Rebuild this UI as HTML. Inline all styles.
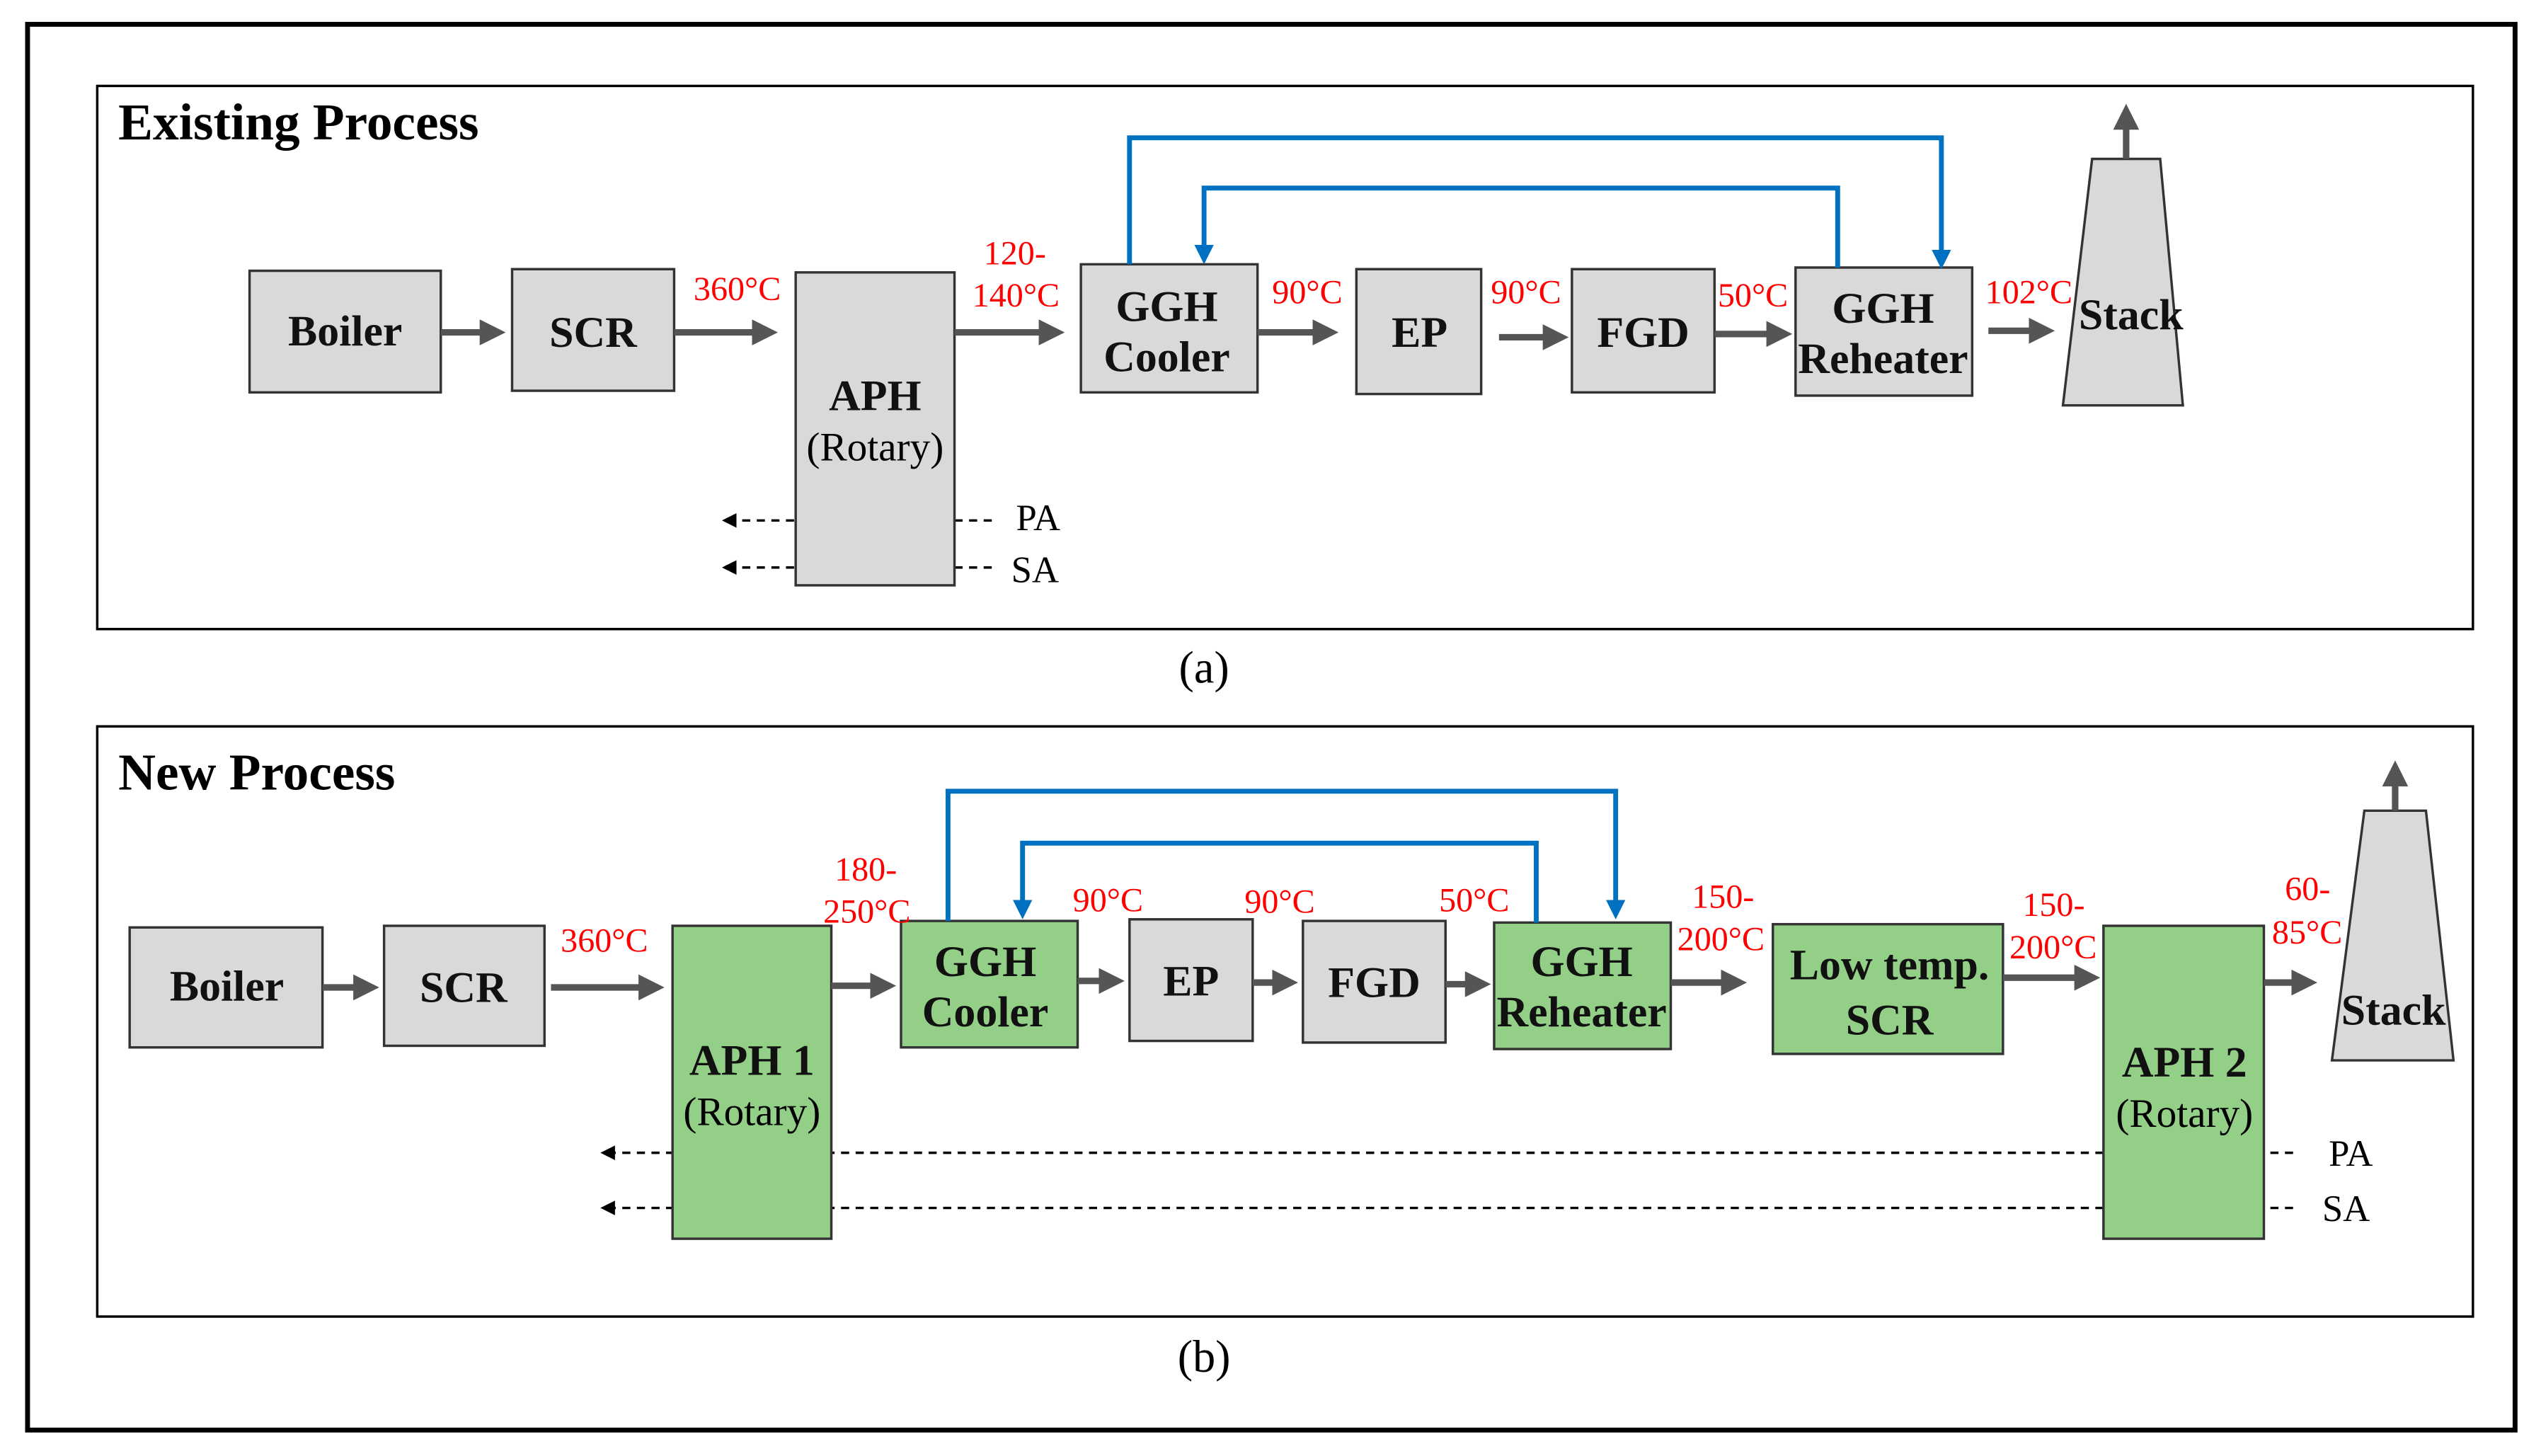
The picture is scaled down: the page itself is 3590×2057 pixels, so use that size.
<!DOCTYPE html>
<html><head><meta charset="utf-8"><style>html,body{margin:0;padding:0;background:#fff}svg{display:block}</style></head>
<body>
<svg width="3590" height="2057" viewBox="0 0 1568 898" preserveAspectRatio="none" xmlns="http://www.w3.org/2000/svg" font-family="'Liberation Serif', serif">
<defs>
<marker id="ga" markerWidth="4" markerHeight="4" refX="3" refY="2" orient="auto"><path d="M0,0 L4,2 L0,4 z" fill="#555"/></marker>
<marker id="ba" markerWidth="4" markerHeight="4" refX="3" refY="2" orient="auto"><path d="M0,0 L4,2 L0,4 z" fill="#0070c0"/></marker>
<marker id="ka" markerWidth="6" markerHeight="6" refX="5" refY="3" orient="auto"><path d="M0,0 L6,3 L0,6 z" fill="#000"/></marker>
</defs>
<rect x="17" y="15" width="1535" height="867" fill="#fff" stroke="#000" stroke-width="3"/>
<rect x="60" y="53" width="1466" height="335" fill="none" stroke="#000" stroke-width="1.5"/>
<rect x="60" y="448" width="1466" height="364" fill="none" stroke="#000" stroke-width="1.5"/>
<g font-weight="bold" font-size="32"><text x="73" y="86">Existing Process</text><text x="73" y="487">New Process</text></g>
<g font-size="28" text-anchor="middle"><text x="743" y="421">(a)</text><text x="743" y="846">(b)</text></g>

<g stroke="#000" stroke-width="1.5" stroke-dasharray="5,4" fill="none">
<line x1="490" y1="321" x2="447" y2="321" marker-end="url(#ka)"/>
<line x1="490" y1="350" x2="447" y2="350" marker-end="url(#ka)"/>
<line x1="589" y1="321" x2="615" y2="321"/>
<line x1="589" y1="350" x2="615" y2="350"/>
</g>
<g font-size="23"><text x="627" y="327">PA</text><text x="624" y="359">SA</text></g>

<g fill="#d9d9d9" stroke="#333" stroke-width="1.5">
<rect x="154" y="167" width="118" height="75"/>
<rect x="316" y="166" width="100" height="75"/>
<rect x="491" y="168" width="98" height="193"/>
<rect x="667" y="163" width="109" height="79"/>
<rect x="837" y="166" width="77" height="77"/>
<rect x="970" y="166" width="88" height="76"/>
<rect x="1108" y="165" width="109" height="79"/>
<polygon points="1291,98 1333,98 1347,250 1273,250"/>
</g>
<g font-weight="bold" font-size="27" text-anchor="middle" fill="#111">
<text x="213" y="213">Boiler</text>
<text x="366" y="214">SCR</text>
<text x="540" y="253">APH</text>
<text x="720" y="198">GGH</text><text x="720" y="229">Cooler</text>
<text x="876" y="214">EP</text>
<text x="1014" y="214">FGD</text>
<text x="1162" y="199">GGH</text><text x="1162" y="230">Reheater</text>
<text x="1315" y="203">Stack</text>
</g>
<text x="540" y="284" font-size="25" text-anchor="middle">(Rotary)</text>
<g stroke="#555" stroke-width="4" fill="none" marker-end="url(#ga)">
<line x1="272" y1="205" x2="308" y2="205"/>
<line x1="416" y1="205" x2="476" y2="205"/>
<line x1="589" y1="205" x2="653" y2="205"/>
<line x1="776" y1="205" x2="822" y2="205"/>
<line x1="925" y1="208" x2="964" y2="208"/>
<line x1="1058" y1="206" x2="1102" y2="206"/>
<line x1="1227" y1="204" x2="1264" y2="204"/>
<line x1="1312" y1="98" x2="1312" y2="68"/>
</g>
<g fill="none" stroke="#0070c0" stroke-width="3">
<polyline points="697,163 697,85 1198,85 1198,163" marker-end="url(#ba)"/>
<polyline points="1134,165 1134,116 743,116 743,160" marker-end="url(#ba)"/>
</g>
<g fill="#ff0000" font-size="21">
<text x="428" y="185">360°C</text>
<text x="607" y="163">120-</text><text x="600" y="189">140°C</text>
<text x="785" y="187">90°C</text>
<text x="920" y="187">90°C</text>
<text x="1060" y="189">50°C</text>
<text x="1225" y="187">102°C</text>
</g>

<g stroke="#000" stroke-width="1.5" stroke-dasharray="5,4" fill="none">
<line x1="1415" y1="711" x2="372" y2="711" marker-end="url(#ka)"/>
<line x1="1415" y1="745" x2="372" y2="745" marker-end="url(#ka)"/>
</g>
<g font-size="23"><text x="1437" y="719">PA</text><text x="1433" y="753">SA</text></g>
<g stroke="#333" stroke-width="1.5">
<rect x="80" y="572" width="119" height="74" fill="#d9d9d9"/>
<rect x="237" y="571" width="99" height="74" fill="#d9d9d9"/>
<rect x="415" y="571" width="98" height="193" fill="#93cf87"/>
<rect x="556" y="568" width="109" height="78" fill="#93cf87"/>
<rect x="697" y="567" width="76" height="75" fill="#d9d9d9"/>
<rect x="804" y="568" width="88" height="75" fill="#d9d9d9"/>
<rect x="922" y="569" width="109" height="78" fill="#93cf87"/>
<rect x="1094" y="570" width="142" height="80" fill="#93cf87"/>
<rect x="1298" y="571" width="99" height="193" fill="#93cf87"/>
<polygon points="1459,500 1497,500 1514,654 1439,654" fill="#d9d9d9"/>
</g>
<g font-weight="bold" font-size="27" text-anchor="middle" fill="#111">
<text x="140" y="617">Boiler</text>
<text x="286" y="618">SCR</text>
<text x="464" y="663">APH 1</text>
<text x="608" y="602">GGH</text><text x="608" y="633">Cooler</text>
<text x="735" y="614">EP</text>
<text x="848" y="615">FGD</text>
<text x="976" y="602">GGH</text><text x="976" y="633">Reheater</text>
<text x="1166" y="604">Low temp.</text><text x="1166" y="638">SCR</text>
<text x="1348" y="664">APH 2</text>
<text x="1477" y="632">Stack</text>
</g>
<g font-size="25" text-anchor="middle"><text x="464" y="694">(Rotary)</text><text x="1348" y="695">(Rotary)</text></g>
<g stroke="#555" stroke-width="4" fill="none" marker-end="url(#ga)">
<line x1="199" y1="609" x2="230" y2="609"/>
<line x1="340" y1="609" x2="406" y2="609"/>
<line x1="513" y1="608" x2="549" y2="608"/>
<line x1="665" y1="605" x2="690" y2="605"/>
<line x1="773" y1="606" x2="797" y2="606"/>
<line x1="892" y1="607" x2="916" y2="607"/>
<line x1="1031" y1="606" x2="1074" y2="606"/>
<line x1="1236" y1="603" x2="1292" y2="603"/>
<line x1="1397" y1="606" x2="1426" y2="606"/>
<line x1="1478" y1="500" x2="1478" y2="473"/>
</g>
<g fill="none" stroke="#0070c0" stroke-width="3">
<polyline points="585,568 585,488 997,488 997,564" marker-end="url(#ba)"/>
<polyline points="948,569 948,520 631,520 631,564" marker-end="url(#ba)"/>
</g>
<g fill="#ff0000" font-size="21">
<text x="346" y="587">360°C</text>
<text x="515" y="543">180-</text><text x="508" y="569">250°C</text>
<text x="662" y="562">90°C</text>
<text x="768" y="563">90°C</text>
<text x="888" y="562">50°C</text>
<text x="1044" y="560">150-</text><text x="1035" y="586">200°C</text>
<text x="1248" y="565">150-</text><text x="1240" y="591">200°C</text>
<text x="1410" y="555">60-</text><text x="1402" y="582">85°C</text>
</g>
</svg>
</body></html>
